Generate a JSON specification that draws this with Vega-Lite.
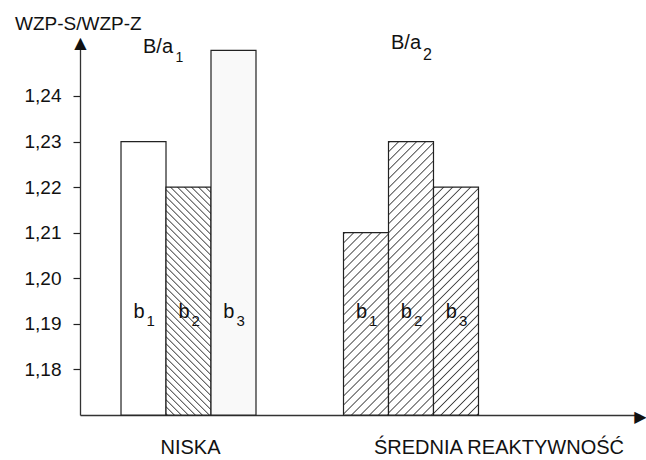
{
  "$schema": "https://vega.github.io/schema/vega-lite/v6.json",
  "width": 560,
  "height": 376,
  "autosize": {"type": "none"},
  "padding": {"left": 80, "top": 39, "right": 6, "bottom": 45},
  "background": "#ffffff",
  "title": {"text": "WZP-S/WZP-Z", "anchor": "start", "frame": "group", "dx": -65, "dy": 1, "offset": 0, "font": "Liberation Sans", "fontSize": 19, "fontWeight": "normal", "color": "#111111"},
  "config": {"view": {"stroke": null}},
  "datasets": {
    "slupki": [
      {"grupa": "NISKA", "b": "b1", "indeks": "1", "wartosc": 1.23},
      {"grupa": "NISKA", "b": "b2", "indeks": "2", "wartosc": 1.22},
      {"grupa": "NISKA", "b": "b3", "indeks": "3", "wartosc": 1.25},
      {"grupa": "ŚREDNIA REAKTYWNOŚĆ", "b": "b1", "indeks": "1", "wartosc": 1.21},
      {"grupa": "ŚREDNIA REAKTYWNOŚĆ", "b": "b2", "indeks": "2", "wartosc": 1.23},
      {"grupa": "ŚREDNIA REAKTYWNOŚĆ", "b": "b3", "indeks": "3", "wartosc": 1.22}
    ],
    "opisy": [
      {"grupa": "NISKA", "b": "b1", "poziom": 1.2494, "tekst": "B/a", "indeks": "1"},
      {"grupa": "ŚREDNIA REAKTYWNOŚĆ", "b": "b2", "poziom": 1.2503, "tekst": "B/a", "indeks": "2"}
    ]
  },
  "data": {"name": "slupki"},
  "encoding": {
    "x": {
      "field": "grupa", "type": "nominal",
      "scale": {"domain": ["NISKA", "ŚREDNIA REAKTYWNOŚĆ"], "paddingInner": 0.3933, "paddingOuter": 0.4551, "align": 0.2025},
      "axis": {
        "title": "▶", "titleFont": "DejaVu Sans", "titleFontSize": 16, "titleFontWeight": "normal", "titleColor": "#111111",
        "titleAngle": 0, "titleAlign": "right", "titleBaseline": "alphabetic", "titleX": 566, "titleY": 6,
        "labelFont": "Liberation Sans", "labelFontSize": 20, "labelColor": "#111111", "labelAngle": 0,
        "labelBaseline": "alphabetic", "labelPadding": 38, "labelLimit": 400, "labelOverlap": false,
        "labelOffset": {"condition": {"test": "datum.value === 'ŚREDNIA REAKTYWNOŚĆ'", "value": 88}, "value": 2},
        "ticks": false, "tickSize": 0, "domainColor": "#333333", "domainWidth": 1.3
      }
    },
    "xOffset": {"field": "b", "type": "nominal", "scale": {"domain": ["b1", "b2", "b3"], "paddingInner": 0, "paddingOuter": 0}}
  },
  "layer": [
    {
      "encoding": {
        "y": {
          "field": "wartosc", "type": "quantitative",
          "scale": {"domain": [1.17, 1.2525], "zero": false, "nice": false},
          "axis": {
            "values": [1.18, 1.19, 1.2, 1.21, 1.22, 1.23, 1.24],
            "labelExpr": "replace(format(datum.value, '.2f'), '.', ',')",
            "labelFont": "Liberation Sans", "labelFontSize": 19, "labelColor": "#111111", "labelPadding": 12,
            "tickSize": 7, "tickColor": "#222222", "tickWidth": 1.2, "domainColor": "#333333", "domainWidth": 1.3, "grid": false,
            "title": "▲", "titleFont": "DejaVu Sans", "titleFontSize": 16, "titleFontWeight": "normal", "titleColor": "#111111",
            "titleAngle": 0, "titleAlign": "center", "titleBaseline": "alphabetic", "titleX": 0, "titleY": 8
          }
        },
        "y2": {"datum": 1.17}
      },
      "layer": [
        {
          "transform": [{"filter": "datum.grupa === 'NISKA' && datum.b === 'b1'"}],
          "mark": {"type": "bar", "fill": "#ffffff", "stroke": "#222222", "strokeWidth": 1.2}
        },
        {
          "transform": [{"filter": "datum.grupa === 'NISKA' && datum.b === 'b2'"}],
          "mark": {"type": "bar", "stroke": "#222222", "strokeWidth": 1.2,
            "fill": {"gradient": "linear", "x1": 0, "y1": 1, "x2": 0.29224, "y2": -0.47903, "stops": [
              {"offset": 0, "color": "#fff"}, {"offset": 0.0035, "color": "#444"}, {"offset": 0.007, "color": "#fff"},
              {"offset": 0.02, "color": "#fff"}, {"offset": 0.0235, "color": "#444"}, {"offset": 0.027, "color": "#fff"},
              {"offset": 0.04, "color": "#fff"}, {"offset": 0.0435, "color": "#444"}, {"offset": 0.047, "color": "#fff"},
              {"offset": 0.06, "color": "#fff"}, {"offset": 0.0635, "color": "#444"}, {"offset": 0.067, "color": "#fff"},
              {"offset": 0.08, "color": "#fff"}, {"offset": 0.0835, "color": "#444"}, {"offset": 0.087, "color": "#fff"},
              {"offset": 0.1, "color": "#fff"}, {"offset": 0.1035, "color": "#444"}, {"offset": 0.107, "color": "#fff"},
              {"offset": 0.12, "color": "#fff"}, {"offset": 0.1235, "color": "#444"}, {"offset": 0.127, "color": "#fff"},
              {"offset": 0.14, "color": "#fff"}, {"offset": 0.1435, "color": "#444"}, {"offset": 0.147, "color": "#fff"},
              {"offset": 0.16, "color": "#fff"}, {"offset": 0.1635, "color": "#444"}, {"offset": 0.167, "color": "#fff"},
              {"offset": 0.18, "color": "#fff"}, {"offset": 0.1835, "color": "#444"}, {"offset": 0.187, "color": "#fff"},
              {"offset": 0.2, "color": "#fff"}, {"offset": 0.2035, "color": "#444"}, {"offset": 0.207, "color": "#fff"},
              {"offset": 0.22, "color": "#fff"}, {"offset": 0.2235, "color": "#444"}, {"offset": 0.227, "color": "#fff"},
              {"offset": 0.24, "color": "#fff"}, {"offset": 0.2435, "color": "#444"}, {"offset": 0.247, "color": "#fff"},
              {"offset": 0.26, "color": "#fff"}, {"offset": 0.2635, "color": "#444"}, {"offset": 0.267, "color": "#fff"},
              {"offset": 0.28, "color": "#fff"}, {"offset": 0.2835, "color": "#444"}, {"offset": 0.287, "color": "#fff"},
              {"offset": 0.3, "color": "#fff"}, {"offset": 0.3035, "color": "#444"}, {"offset": 0.307, "color": "#fff"},
              {"offset": 0.32, "color": "#fff"}, {"offset": 0.3235, "color": "#444"}, {"offset": 0.327, "color": "#fff"},
              {"offset": 0.34, "color": "#fff"}, {"offset": 0.3435, "color": "#444"}, {"offset": 0.347, "color": "#fff"},
              {"offset": 0.36, "color": "#fff"}, {"offset": 0.3635, "color": "#444"}, {"offset": 0.367, "color": "#fff"},
              {"offset": 0.38, "color": "#fff"}, {"offset": 0.3835, "color": "#444"}, {"offset": 0.387, "color": "#fff"},
              {"offset": 0.4, "color": "#fff"}, {"offset": 0.4035, "color": "#444"}, {"offset": 0.407, "color": "#fff"},
              {"offset": 0.42, "color": "#fff"}, {"offset": 0.4235, "color": "#444"}, {"offset": 0.427, "color": "#fff"},
              {"offset": 0.44, "color": "#fff"}, {"offset": 0.4435, "color": "#444"}, {"offset": 0.447, "color": "#fff"},
              {"offset": 0.46, "color": "#fff"}, {"offset": 0.4635, "color": "#444"}, {"offset": 0.467, "color": "#fff"},
              {"offset": 0.48, "color": "#fff"}, {"offset": 0.4835, "color": "#444"}, {"offset": 0.487, "color": "#fff"},
              {"offset": 0.5, "color": "#fff"}, {"offset": 0.5035, "color": "#444"}, {"offset": 0.507, "color": "#fff"},
              {"offset": 0.52, "color": "#fff"}, {"offset": 0.5235, "color": "#444"}, {"offset": 0.527, "color": "#fff"},
              {"offset": 0.54, "color": "#fff"}, {"offset": 0.5435, "color": "#444"}, {"offset": 0.547, "color": "#fff"},
              {"offset": 0.56, "color": "#fff"}, {"offset": 0.5635, "color": "#444"}, {"offset": 0.567, "color": "#fff"},
              {"offset": 0.58, "color": "#fff"}, {"offset": 0.5835, "color": "#444"}, {"offset": 0.587, "color": "#fff"},
              {"offset": 0.6, "color": "#fff"}, {"offset": 0.6035, "color": "#444"}, {"offset": 0.607, "color": "#fff"},
              {"offset": 0.62, "color": "#fff"}, {"offset": 0.6235, "color": "#444"}, {"offset": 0.627, "color": "#fff"},
              {"offset": 0.64, "color": "#fff"}, {"offset": 0.6435, "color": "#444"}, {"offset": 0.647, "color": "#fff"},
              {"offset": 0.66, "color": "#fff"}, {"offset": 0.6635, "color": "#444"}, {"offset": 0.667, "color": "#fff"},
              {"offset": 0.68, "color": "#fff"}, {"offset": 0.6835, "color": "#444"}, {"offset": 0.687, "color": "#fff"},
              {"offset": 0.7, "color": "#fff"}, {"offset": 0.7035, "color": "#444"}, {"offset": 0.707, "color": "#fff"},
              {"offset": 0.72, "color": "#fff"}, {"offset": 0.7235, "color": "#444"}, {"offset": 0.727, "color": "#fff"},
              {"offset": 0.74, "color": "#fff"}, {"offset": 0.7435, "color": "#444"}, {"offset": 0.747, "color": "#fff"},
              {"offset": 0.76, "color": "#fff"}, {"offset": 0.7635, "color": "#444"}, {"offset": 0.767, "color": "#fff"},
              {"offset": 0.78, "color": "#fff"}, {"offset": 0.7835, "color": "#444"}, {"offset": 0.787, "color": "#fff"}
            ]}}
        },
        {
          "transform": [{"filter": "datum.grupa === 'NISKA' && datum.b === 'b3'"}],
          "mark": {"type": "bar", "fill": "#f9f9f9", "stroke": "#222222", "strokeWidth": 1.2}
        },
        {
          "transform": [{"filter": "datum.grupa === 'ŚREDNIA REAKTYWNOŚĆ' && datum.b === 'b1'"}],
          "mark": {"type": "bar", "stroke": "#222222", "strokeWidth": 1.2,
            "fill": {"gradient": "linear", "x1": 0, "y1": 0, "x2": 0.45994, "y2": 1.86225, "stops": [
              {"offset": 0, "color": "#fff"}, {"offset": 0.0035, "color": "#444"}, {"offset": 0.007, "color": "#fff"},
              {"offset": 0.025, "color": "#fff"}, {"offset": 0.0285, "color": "#444"}, {"offset": 0.032, "color": "#fff"},
              {"offset": 0.05, "color": "#fff"}, {"offset": 0.0535, "color": "#444"}, {"offset": 0.057, "color": "#fff"},
              {"offset": 0.075, "color": "#fff"}, {"offset": 0.0785, "color": "#444"}, {"offset": 0.082, "color": "#fff"},
              {"offset": 0.1, "color": "#fff"}, {"offset": 0.1035, "color": "#444"}, {"offset": 0.107, "color": "#fff"},
              {"offset": 0.125, "color": "#fff"}, {"offset": 0.1285, "color": "#444"}, {"offset": 0.132, "color": "#fff"},
              {"offset": 0.15, "color": "#fff"}, {"offset": 0.1535, "color": "#444"}, {"offset": 0.157, "color": "#fff"},
              {"offset": 0.175, "color": "#fff"}, {"offset": 0.1785, "color": "#444"}, {"offset": 0.182, "color": "#fff"},
              {"offset": 0.2, "color": "#fff"}, {"offset": 0.2035, "color": "#444"}, {"offset": 0.207, "color": "#fff"},
              {"offset": 0.225, "color": "#fff"}, {"offset": 0.2285, "color": "#444"}, {"offset": 0.232, "color": "#fff"},
              {"offset": 0.25, "color": "#fff"}, {"offset": 0.2535, "color": "#444"}, {"offset": 0.257, "color": "#fff"},
              {"offset": 0.275, "color": "#fff"}, {"offset": 0.2785, "color": "#444"}, {"offset": 0.282, "color": "#fff"},
              {"offset": 0.3, "color": "#fff"}, {"offset": 0.3035, "color": "#444"}, {"offset": 0.307, "color": "#fff"},
              {"offset": 0.325, "color": "#fff"}, {"offset": 0.3285, "color": "#444"}, {"offset": 0.332, "color": "#fff"},
              {"offset": 0.35, "color": "#fff"}, {"offset": 0.3535, "color": "#444"}, {"offset": 0.357, "color": "#fff"},
              {"offset": 0.375, "color": "#fff"}, {"offset": 0.3785, "color": "#444"}, {"offset": 0.382, "color": "#fff"},
              {"offset": 0.4, "color": "#fff"}, {"offset": 0.4035, "color": "#444"}, {"offset": 0.407, "color": "#fff"},
              {"offset": 0.425, "color": "#fff"}, {"offset": 0.4285, "color": "#444"}, {"offset": 0.432, "color": "#fff"},
              {"offset": 0.45, "color": "#fff"}, {"offset": 0.4535, "color": "#444"}, {"offset": 0.457, "color": "#fff"},
              {"offset": 0.475, "color": "#fff"}, {"offset": 0.4785, "color": "#444"}, {"offset": 0.482, "color": "#fff"},
              {"offset": 0.5, "color": "#fff"}, {"offset": 0.5035, "color": "#444"}, {"offset": 0.507, "color": "#fff"},
              {"offset": 0.525, "color": "#fff"}, {"offset": 0.5285, "color": "#444"}, {"offset": 0.532, "color": "#fff"},
              {"offset": 0.55, "color": "#fff"}, {"offset": 0.5535, "color": "#444"}, {"offset": 0.557, "color": "#fff"},
              {"offset": 0.575, "color": "#fff"}, {"offset": 0.5785, "color": "#444"}, {"offset": 0.582, "color": "#fff"},
              {"offset": 0.6, "color": "#fff"}, {"offset": 0.6035, "color": "#444"}, {"offset": 0.607, "color": "#fff"},
              {"offset": 0.625, "color": "#fff"}, {"offset": 0.6285, "color": "#444"}, {"offset": 0.632, "color": "#fff"}
            ]}}
        },
        {
          "transform": [{"filter": "datum.grupa === 'ŚREDNIA REAKTYWNOŚĆ' && datum.b === 'b2'"}],
          "mark": {"type": "bar", "stroke": "#222222", "strokeWidth": 1.2,
            "fill": {"gradient": "linear", "x1": 0, "y1": 0, "x2": 0.21116, "y2": 1.28247, "stops": [
              {"offset": 0, "color": "#fff"}, {"offset": 0.0035, "color": "#444"}, {"offset": 0.007, "color": "#fff"},
              {"offset": 0.025, "color": "#fff"}, {"offset": 0.0285, "color": "#444"}, {"offset": 0.032, "color": "#fff"},
              {"offset": 0.05, "color": "#fff"}, {"offset": 0.0535, "color": "#444"}, {"offset": 0.057, "color": "#fff"},
              {"offset": 0.075, "color": "#fff"}, {"offset": 0.0785, "color": "#444"}, {"offset": 0.082, "color": "#fff"},
              {"offset": 0.1, "color": "#fff"}, {"offset": 0.1035, "color": "#444"}, {"offset": 0.107, "color": "#fff"},
              {"offset": 0.125, "color": "#fff"}, {"offset": 0.1285, "color": "#444"}, {"offset": 0.132, "color": "#fff"},
              {"offset": 0.15, "color": "#fff"}, {"offset": 0.1535, "color": "#444"}, {"offset": 0.157, "color": "#fff"},
              {"offset": 0.175, "color": "#fff"}, {"offset": 0.1785, "color": "#444"}, {"offset": 0.182, "color": "#fff"},
              {"offset": 0.2, "color": "#fff"}, {"offset": 0.2035, "color": "#444"}, {"offset": 0.207, "color": "#fff"},
              {"offset": 0.225, "color": "#fff"}, {"offset": 0.2285, "color": "#444"}, {"offset": 0.232, "color": "#fff"},
              {"offset": 0.25, "color": "#fff"}, {"offset": 0.2535, "color": "#444"}, {"offset": 0.257, "color": "#fff"},
              {"offset": 0.275, "color": "#fff"}, {"offset": 0.2785, "color": "#444"}, {"offset": 0.282, "color": "#fff"},
              {"offset": 0.3, "color": "#fff"}, {"offset": 0.3035, "color": "#444"}, {"offset": 0.307, "color": "#fff"},
              {"offset": 0.325, "color": "#fff"}, {"offset": 0.3285, "color": "#444"}, {"offset": 0.332, "color": "#fff"},
              {"offset": 0.35, "color": "#fff"}, {"offset": 0.3535, "color": "#444"}, {"offset": 0.357, "color": "#fff"},
              {"offset": 0.375, "color": "#fff"}, {"offset": 0.3785, "color": "#444"}, {"offset": 0.382, "color": "#fff"},
              {"offset": 0.4, "color": "#fff"}, {"offset": 0.4035, "color": "#444"}, {"offset": 0.407, "color": "#fff"},
              {"offset": 0.425, "color": "#fff"}, {"offset": 0.4285, "color": "#444"}, {"offset": 0.432, "color": "#fff"},
              {"offset": 0.45, "color": "#fff"}, {"offset": 0.4535, "color": "#444"}, {"offset": 0.457, "color": "#fff"},
              {"offset": 0.475, "color": "#fff"}, {"offset": 0.4785, "color": "#444"}, {"offset": 0.482, "color": "#fff"},
              {"offset": 0.5, "color": "#fff"}, {"offset": 0.5035, "color": "#444"}, {"offset": 0.507, "color": "#fff"},
              {"offset": 0.525, "color": "#fff"}, {"offset": 0.5285, "color": "#444"}, {"offset": 0.532, "color": "#fff"},
              {"offset": 0.55, "color": "#fff"}, {"offset": 0.5535, "color": "#444"}, {"offset": 0.557, "color": "#fff"},
              {"offset": 0.575, "color": "#fff"}, {"offset": 0.5785, "color": "#444"}, {"offset": 0.582, "color": "#fff"},
              {"offset": 0.6, "color": "#fff"}, {"offset": 0.6035, "color": "#444"}, {"offset": 0.607, "color": "#fff"},
              {"offset": 0.625, "color": "#fff"}, {"offset": 0.6285, "color": "#444"}, {"offset": 0.632, "color": "#fff"},
              {"offset": 0.65, "color": "#fff"}, {"offset": 0.6535, "color": "#444"}, {"offset": 0.657, "color": "#fff"},
              {"offset": 0.675, "color": "#fff"}, {"offset": 0.6785, "color": "#444"}, {"offset": 0.682, "color": "#fff"},
              {"offset": 0.7, "color": "#fff"}, {"offset": 0.7035, "color": "#444"}, {"offset": 0.707, "color": "#fff"},
              {"offset": 0.725, "color": "#fff"}, {"offset": 0.7285, "color": "#444"}, {"offset": 0.732, "color": "#fff"},
              {"offset": 0.75, "color": "#fff"}, {"offset": 0.7535, "color": "#444"}, {"offset": 0.757, "color": "#fff"},
              {"offset": 0.775, "color": "#fff"}, {"offset": 0.7785, "color": "#444"}, {"offset": 0.782, "color": "#fff"},
              {"offset": 0.8, "color": "#fff"}, {"offset": 0.8035, "color": "#444"}, {"offset": 0.807, "color": "#fff"},
              {"offset": 0.825, "color": "#fff"}, {"offset": 0.8285, "color": "#444"}, {"offset": 0.832, "color": "#fff"},
              {"offset": 0.85, "color": "#fff"}, {"offset": 0.8535, "color": "#444"}, {"offset": 0.857, "color": "#fff"},
              {"offset": 0.875, "color": "#fff"}, {"offset": 0.8785, "color": "#444"}, {"offset": 0.882, "color": "#fff"}
            ]}}
        },
        {
          "transform": [{"filter": "datum.grupa === 'ŚREDNIA REAKTYWNOŚĆ' && datum.b === 'b3'"}],
          "mark": {"type": "bar", "stroke": "#222222", "strokeWidth": 1.2,
            "fill": {"gradient": "linear", "x1": 0, "y1": 0, "x2": 0.30058, "y2": 1.52129, "stops": [
              {"offset": 0, "color": "#fff"}, {"offset": 0.0035, "color": "#444"}, {"offset": 0.007, "color": "#fff"},
              {"offset": 0.025, "color": "#fff"}, {"offset": 0.0285, "color": "#444"}, {"offset": 0.032, "color": "#fff"},
              {"offset": 0.05, "color": "#fff"}, {"offset": 0.0535, "color": "#444"}, {"offset": 0.057, "color": "#fff"},
              {"offset": 0.075, "color": "#fff"}, {"offset": 0.0785, "color": "#444"}, {"offset": 0.082, "color": "#fff"},
              {"offset": 0.1, "color": "#fff"}, {"offset": 0.1035, "color": "#444"}, {"offset": 0.107, "color": "#fff"},
              {"offset": 0.125, "color": "#fff"}, {"offset": 0.1285, "color": "#444"}, {"offset": 0.132, "color": "#fff"},
              {"offset": 0.15, "color": "#fff"}, {"offset": 0.1535, "color": "#444"}, {"offset": 0.157, "color": "#fff"},
              {"offset": 0.175, "color": "#fff"}, {"offset": 0.1785, "color": "#444"}, {"offset": 0.182, "color": "#fff"},
              {"offset": 0.2, "color": "#fff"}, {"offset": 0.2035, "color": "#444"}, {"offset": 0.207, "color": "#fff"},
              {"offset": 0.225, "color": "#fff"}, {"offset": 0.2285, "color": "#444"}, {"offset": 0.232, "color": "#fff"},
              {"offset": 0.25, "color": "#fff"}, {"offset": 0.2535, "color": "#444"}, {"offset": 0.257, "color": "#fff"},
              {"offset": 0.275, "color": "#fff"}, {"offset": 0.2785, "color": "#444"}, {"offset": 0.282, "color": "#fff"},
              {"offset": 0.3, "color": "#fff"}, {"offset": 0.3035, "color": "#444"}, {"offset": 0.307, "color": "#fff"},
              {"offset": 0.325, "color": "#fff"}, {"offset": 0.3285, "color": "#444"}, {"offset": 0.332, "color": "#fff"},
              {"offset": 0.35, "color": "#fff"}, {"offset": 0.3535, "color": "#444"}, {"offset": 0.357, "color": "#fff"},
              {"offset": 0.375, "color": "#fff"}, {"offset": 0.3785, "color": "#444"}, {"offset": 0.382, "color": "#fff"},
              {"offset": 0.4, "color": "#fff"}, {"offset": 0.4035, "color": "#444"}, {"offset": 0.407, "color": "#fff"},
              {"offset": 0.425, "color": "#fff"}, {"offset": 0.4285, "color": "#444"}, {"offset": 0.432, "color": "#fff"},
              {"offset": 0.45, "color": "#fff"}, {"offset": 0.4535, "color": "#444"}, {"offset": 0.457, "color": "#fff"},
              {"offset": 0.475, "color": "#fff"}, {"offset": 0.4785, "color": "#444"}, {"offset": 0.482, "color": "#fff"},
              {"offset": 0.5, "color": "#fff"}, {"offset": 0.5035, "color": "#444"}, {"offset": 0.507, "color": "#fff"},
              {"offset": 0.525, "color": "#fff"}, {"offset": 0.5285, "color": "#444"}, {"offset": 0.532, "color": "#fff"},
              {"offset": 0.55, "color": "#fff"}, {"offset": 0.5535, "color": "#444"}, {"offset": 0.557, "color": "#fff"},
              {"offset": 0.575, "color": "#fff"}, {"offset": 0.5785, "color": "#444"}, {"offset": 0.582, "color": "#fff"},
              {"offset": 0.6, "color": "#fff"}, {"offset": 0.6035, "color": "#444"}, {"offset": 0.607, "color": "#fff"},
              {"offset": 0.625, "color": "#fff"}, {"offset": 0.6285, "color": "#444"}, {"offset": 0.632, "color": "#fff"},
              {"offset": 0.65, "color": "#fff"}, {"offset": 0.6535, "color": "#444"}, {"offset": 0.657, "color": "#fff"},
              {"offset": 0.675, "color": "#fff"}, {"offset": 0.6785, "color": "#444"}, {"offset": 0.682, "color": "#fff"},
              {"offset": 0.7, "color": "#fff"}, {"offset": 0.7035, "color": "#444"}, {"offset": 0.707, "color": "#fff"},
              {"offset": 0.725, "color": "#fff"}, {"offset": 0.7285, "color": "#444"}, {"offset": 0.732, "color": "#fff"},
              {"offset": 0.75, "color": "#fff"}, {"offset": 0.7535, "color": "#444"}, {"offset": 0.757, "color": "#fff"}
            ]}}
        }
      ]
    },
    {
      "mark": {"type": "text", "text": "b", "align": "right", "baseline": "alphabetic", "dx": 1, "font": "Liberation Sans", "fontSize": 20, "color": "#111111"},
      "encoding": {"y": {"datum": 1.1913, "type": "quantitative"}}
    },
    {
      "mark": {"type": "text", "align": "left", "baseline": "alphabetic", "dx": 3, "dy": 8, "font": "Liberation Sans", "fontSize": 15, "color": "#111111"},
      "encoding": {"y": {"datum": 1.1913, "type": "quantitative"}, "text": {"field": "indeks"}}
    },
    {
      "data": {"name": "opisy"},
      "transform": [{"filter": "datum.grupa === 'NISKA'"}],
      "mark": {"type": "text", "align": "left", "baseline": "alphabetic", "dx": -0.5, "font": "Liberation Sans", "fontSize": 20, "color": "#111111"},
      "encoding": {"y": {"field": "poziom", "type": "quantitative"}, "text": {"field": "tekst"}}
    },
    {
      "data": {"name": "opisy"},
      "transform": [{"filter": "datum.grupa === 'NISKA'"}],
      "mark": {"type": "text", "align": "left", "baseline": "alphabetic", "dx": 32, "dy": 9, "font": "Liberation Sans", "fontSize": 14, "color": "#111111"},
      "encoding": {"y": {"field": "poziom", "type": "quantitative"}, "text": {"field": "indeks"}}
    },
    {
      "data": {"name": "opisy"},
      "transform": [{"filter": "datum.grupa === 'ŚREDNIA REAKTYWNOŚĆ'"}],
      "mark": {"type": "text", "align": "left", "baseline": "alphabetic", "dx": -20, "font": "Liberation Sans", "fontSize": 20, "color": "#111111"},
      "encoding": {"y": {"field": "poziom", "type": "quantitative"}, "text": {"field": "tekst"}}
    },
    {
      "data": {"name": "opisy"},
      "transform": [{"filter": "datum.grupa === 'ŚREDNIA REAKTYWNOŚĆ'"}],
      "mark": {"type": "text", "align": "left", "baseline": "alphabetic", "dx": 12, "dy": 11, "font": "Liberation Sans", "fontSize": 16, "color": "#111111"},
      "encoding": {"y": {"field": "poziom", "type": "quantitative"}, "text": {"field": "indeks"}}
    }
  ]
}
